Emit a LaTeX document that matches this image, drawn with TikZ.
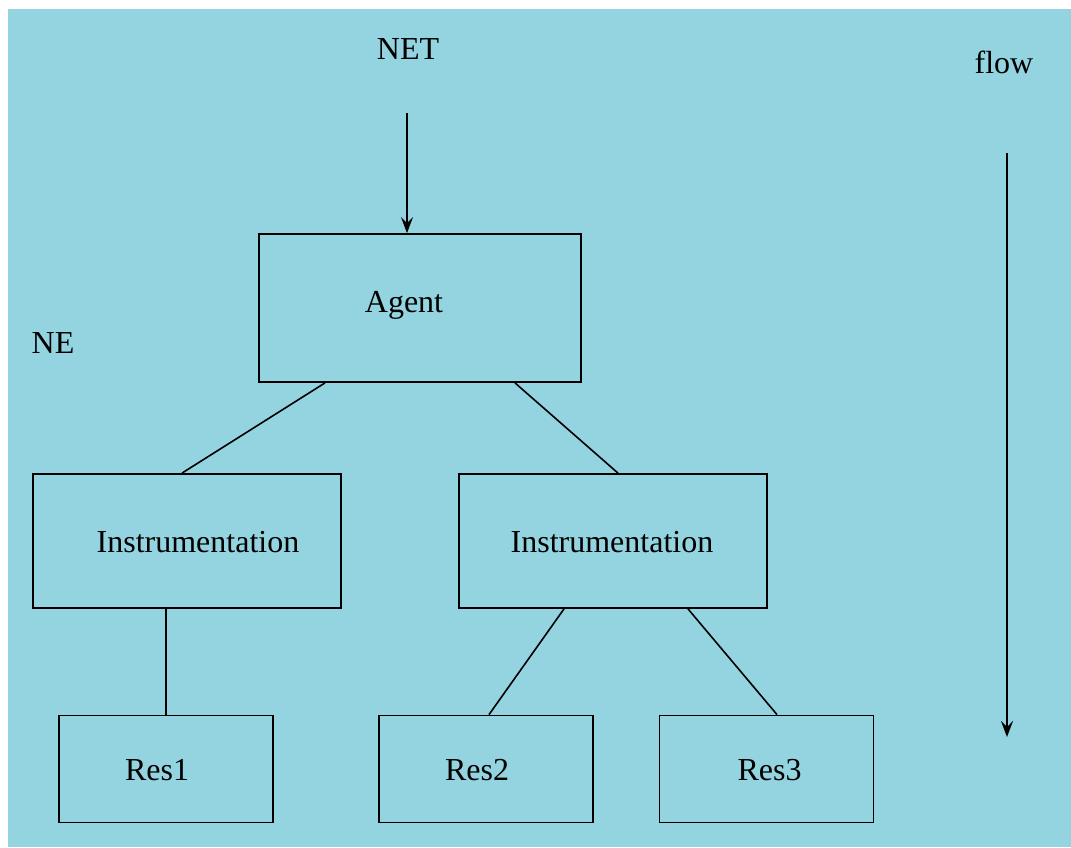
\documentclass[tikz,border=0pt]{standalone}
\usepackage{fontspec}
\setmainfont{Liberation Serif}
\usetikzlibrary{arrows.meta}
\definecolor{skyback}{RGB}{148,212,224}
\tikzset{
  box/.style={draw,line width=1.8pt,inner sep=0pt},
  agentbox/.style={box,minimum width=322pt,minimum height=148pt},
  instbox/.style={box,minimum width=308pt,minimum height=134pt},
  resbox/.style={box,minimum width=214pt,minimum height=107pt},
  lbl/.style={font=\fontsize{32}{38}\selectfont},
  link/.style={line width=1.6pt},
  flowarrow/.style={line width=1.6pt,-{Stealth[length=16pt,width=12pt,inset=6pt]}}
}
\begin{document}
\begin{tikzpicture}[x=1pt,y=-1pt]
            \useasboundingbox (0,0) rectangle (1071,847);
            \fill[skyback] (8,9) rectangle (1071,847);

            % boxes
            \node[agentbox,label={[lbl,xshift=-16pt,yshift=3pt]center:Agent}] (agent) at (420,308) {};
            \node[instbox,label={[lbl,xshift=11pt,yshift=-1pt]center:Instrumentation}] (instL) at (187,541) {};
            \node[instbox,label={[lbl,xshift=-1pt,yshift=-1pt]center:Instrumentation}] (instR) at (613,541) {};
            \node[resbox,label={[lbl,xshift=-9pt,yshift=-1pt]center:Res1}] (res1) at (166,769) {};
            \node[resbox,label={[lbl,xshift=-9pt,yshift=-1pt]center:Res2}] (res2) at (486,769) {};
            \node[resbox,label={[lbl,xshift=3pt,yshift=-1pt]center:Res3}] (res3) at (766.5,769) {};

            % free texts
            \node[lbl,anchor=base] (net) at (408,59) {NET};
            \node[lbl,anchor=base] (ne) at (53,353) {NE};
            \node[lbl,anchor=base] (flow) at (1004,73) {flow};
            \coordinate (netStart) at (407,113);
            \coordinate (flowStart) at (1007,153);
            \coordinate (flowEnd) at (1007,737);

            \draw[flowarrow] (netStart) -- (netStart |- agent.north);
            \draw[flowarrow] (flowStart) -- (flowEnd);
            \draw[link] ([xshift=-95pt]agent.south) -- ([xshift=-5pt]instL.north);
            \draw[link] ([xshift=95pt]agent.south) -- ([xshift=5pt]instR.north);
            \draw[link] ([xshift=-21pt]instL.south) -- (res1.north);
            \draw[link] ([xshift=-49pt]instR.south) -- ([xshift=3pt]res2.north);
            \draw[link] ([xshift=75pt]instR.south) -- ([xshift=10.5pt]res3.north);
\end{tikzpicture}
\end{document}
